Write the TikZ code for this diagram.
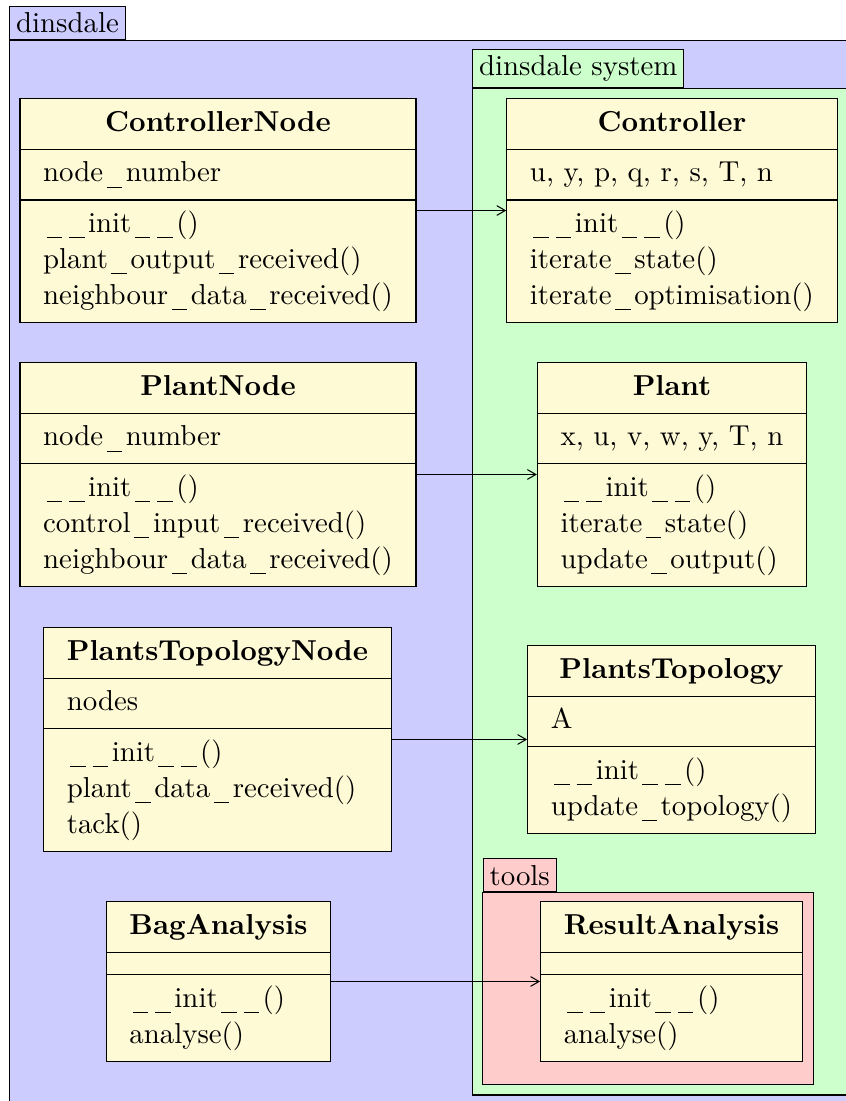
\documentclass[11pt,tikz,border=0pt]{standalone}
\usetikzlibrary{shapes.multipart,arrows}
\definecolor{umlfill}{RGB}{255,250,214}
\newcommand{\umlus}{\kern0.115em\rule[-0.205em]{0.54em}{0.04em}\kern0.125em}
\newcommand{\noattr}{\rule{0pt}{3pt}\hspace{0.5pt}}
\tikzset{
  umlclass/.style={draw, fill=umlfill, rectangle split, rectangle split parts=3,
    rectangle split part align={center,left,left},
    inner xsep=8.8pt, inner ysep=2.6pt},
  pkgtab/.style={draw, anchor=south west, inner xsep=2.4pt, inner ysep=2.4pt},
  assoc/.style={-angle 60},
}

\begin{document}
\begin{tikzpicture}
\useasboundingbox (0,0) rectangle (11.288,-14.691);
\clip (0,0) rectangle (11.288,-14.691);
%dinsdale
\draw[fill=blue!20] (0.124,-0.534) rectangle (11.8,-15.2);
\node[pkgtab, fill=blue!20] (dinsdale) at (0.124,-0.534) {dinsdale};
%dinsdale system
\draw[fill=green!20] (6.302,-1.178) rectangle (11.8,-14.611);
\node[pkgtab, fill=green!20] (system) at (6.302,-1.178) {dinsdale system};
%tools
\draw[fill=red!20] (6.441,-11.906) rectangle (10.852,-14.468);
\node[pkgtab, fill=red!20] (tools) at (6.441,-11.906) {tools};
%classes
\node[umlclass] (ControllerNode) at (2.909,-2.809) {\textbf{ControllerNode}\strut
  \nodepart{two}\strut node\umlus number
  \nodepart{three}\begin{tabular}{@{}l@{}}\umlus\umlus init\umlus\umlus()\\ plant\umlus output\umlus received()\\ neighbour\umlus data\umlus received()\end{tabular}};
\node[umlclass] (Controller) at (8.966,-2.809) {\textbf{Controller}\strut
  \nodepart{two}\strut u, y, p, q, r, s, T, n
  \nodepart{three}\begin{tabular}{@{}l@{}}\umlus\umlus init\umlus\umlus()\\ iterate\umlus state()\\ iterate\umlus optimisation()\end{tabular}};
\node[umlclass] (PlantNode) at (2.909,-6.331) {\textbf{PlantNode}\strut
  \nodepart{two}\strut node\umlus number
  \nodepart{three}\begin{tabular}{@{}l@{}}\umlus\umlus init\umlus\umlus()\\ control\umlus input\umlus received()\\ neighbour\umlus data\umlus received()\end{tabular}};
\node[umlclass] (Plant) at (8.966,-6.331) {\textbf{Plant}\strut
  \nodepart{two}\strut x, u, v, w, y, T, n
  \nodepart{three}\begin{tabular}{@{}l@{}}\umlus\umlus init\umlus\umlus()\\ iterate\umlus state()\\ update\umlus output()\end{tabular}};
\node[umlclass] (PlantsTopologyNode) at (2.902,-9.867) {\textbf{PlantsTopologyNode}\strut
  \nodepart{two}\strut nodes
  \nodepart{three}\begin{tabular}{@{}l@{}}\umlus\umlus init\umlus\umlus()\\ plant\umlus data\umlus received()\\ tack()\end{tabular}};
\node[umlclass] (PlantsTopology) at (8.960,-9.867) {\textbf{PlantsTopology}\strut
  \nodepart{two}\strut A
  \nodepart{three}\begin{tabular}{@{}l@{}}\umlus\umlus init\umlus\umlus()\\ update\umlus topology()\end{tabular}};
\node[umlclass] (BagAnalysis) at (2.915,-13.096) {\textbf{BagAnalysis}\strut
  \nodepart{two}\noattr
  \nodepart{three}\begin{tabular}{@{}l@{}}\umlus\umlus init\umlus\umlus()\\ analyse()\end{tabular}};
\node[umlclass] (ResultAnalysis) at (8.960,-13.096) {\textbf{ResultAnalysis}\strut
  \nodepart{two}\noattr
  \nodepart{three}\begin{tabular}{@{}l@{}}\umlus\umlus init\umlus\umlus()\\ analyse()\end{tabular}};
%associations
\draw[assoc] (ControllerNode) -- (Controller);
\draw[assoc] (PlantNode) -- (Plant);
\draw[assoc] (PlantsTopologyNode) -- (PlantsTopology);
\draw[assoc] (BagAnalysis) -- (ResultAnalysis);
\end{tikzpicture}
\end{document}
